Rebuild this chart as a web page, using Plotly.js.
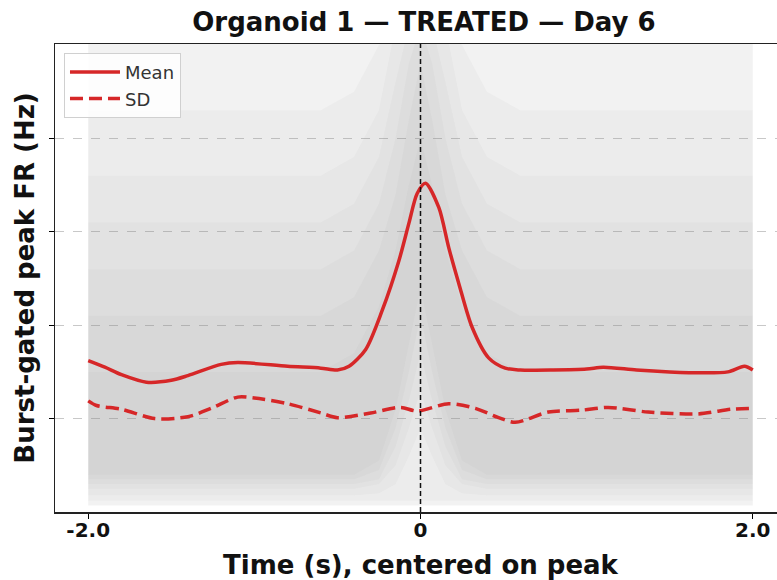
<!DOCTYPE html>
<html>
<head>
<meta charset="utf-8">
<script src="https://cdn.plot.ly/plotly-3.0.1.min.js"></script>
<style>
html,body{margin:0;padding:0;overflow:hidden;background:#fff;}
#chart{width:800px;height:580px;}
</style>
</head>
<body>
<div id="chart"></div>
<script>
// ---- data ----
const meanT = [-2.0,-1.9,-1.8,-1.65,-1.5,-1.4,-1.2,-1.1,-0.8,-0.6,-0.5,-0.43,-0.33,-0.23,-0.13,-0.07,-0.02,0.03,0.11,0.17,0.23,0.31,0.41,0.51,0.6,0.8,1.0,1.1,1.3,1.5,1.7,1.85,1.95,2.0];
const meanV = [1.62,1.55,1.47,1.39,1.41,1.46,1.58,1.60,1.56,1.54,1.52,1.56,1.74,2.16,2.69,3.09,3.41,3.52,3.26,2.83,2.45,1.98,1.65,1.54,1.52,1.52,1.53,1.55,1.52,1.50,1.49,1.50,1.56,1.52];

const sdT = [-2.0,-1.95,-1.8,-1.6,-1.4,-1.26,-1.1,-1.0,-0.8,-0.6,-0.5,-0.3,-0.12,-0.02,0.17,0.33,0.47,0.57,0.77,0.97,1.13,1.37,1.67,1.87,2.0];
const sdV = [1.19,1.14,1.10,1.00,1.02,1.11,1.23,1.22,1.16,1.06,1.01,1.06,1.12,1.08,1.16,1.11,1.01,0.96,1.07,1.09,1.12,1.07,1.05,1.10,1.11];

// envelope of the individual grey burst traces, as density layers
const bandT = [-2,-1.5,-1,-0.6,-0.4,-0.25,-0.15,-0.07,0,0.07,0.15,0.25,0.4,0.6,1,1.5,2];
const bandHi = [
  [5.2,5.2,5.2,5.2,5.2,5.2,5.2,5.2,5.2,5.2,5.2,5.2,5.2,5.2,5.2,5.2,5.2],
  [4.3,4.3,4.3,4.3,4.5,5.0,5.2,5.2,5.2,5.2,5.2,5.0,4.5,4.3,4.3,4.3,4.3],
  [3.6,3.6,3.6,3.6,3.8,4.3,5.2,5.2,5.2,5.2,5.2,4.3,3.8,3.6,3.6,3.6,3.6],
  [3.1,3.1,3.1,3.1,3.3,3.8,4.6,5.2,5.2,5.2,4.6,3.8,3.3,3.1,3.1,3.1,3.1],
  [2.6,2.6,2.6,2.6,2.8,3.3,4.0,4.8,5.2,4.8,4.0,3.3,2.8,2.6,2.6,2.6,2.6],
  [2.1,2.1,2.1,2.1,2.3,2.8,3.4,4.2,4.8,4.2,3.4,2.8,2.3,2.1,2.1,2.1,2.1],
  [1.5,1.5,1.5,1.5,1.7,2.2,2.8,3.5,4.0,3.5,2.8,2.2,1.7,1.5,1.5,1.5,1.5]
];
const bandLo = [
  [0.07,0.07,0.07,0.07,0.07,0.07,0.07,0.07,0.07,0.07,0.07,0.07,0.07,0.07,0.07,0.07,0.07],
  [0.12,0.12,0.12,0.12,0.12,0.12,0.12,0.12,0.12,0.12,0.12,0.12,0.12,0.12,0.12,0.12,0.12],
  [0.18,0.18,0.18,0.18,0.18,0.2,0.3,0.6,0.9,0.6,0.3,0.2,0.18,0.18,0.18,0.18,0.18],
  [0.25,0.25,0.25,0.25,0.25,0.3,0.5,0.9,1.3,0.9,0.5,0.3,0.25,0.25,0.25,0.25,0.25],
  [0.3,0.3,0.3,0.3,0.3,0.35,0.7,1.2,1.7,1.2,0.7,0.35,0.3,0.3,0.3,0.3,0.3],
  [0.35,0.35,0.35,0.35,0.35,0.45,0.9,1.5,2.1,1.5,0.9,0.45,0.35,0.35,0.35,0.35,0.35],
  [0.4,0.4,0.4,0.4,0.4,0.55,1.1,1.8,2.4,1.8,1.1,0.55,0.4,0.4,0.4,0.4,0.4]
];
const bandAlpha = [0.12, 0.055, 0.055, 0.055, 0.055, 0.055, 0.055];

const xTicks = [-2, 0, 2];
const xTickText = ['-2.0', '0', '2.0'];
const yTicks = [1, 2, 3, 4];

// ---- build traces ----
const traces = [];
bandHi.forEach(function(hi, i){
  const lo = bandLo[i];
  traces.push({
    x: bandT.concat(bandT.slice().reverse()),
    y: hi.concat(lo.slice().reverse()),
    type: 'scatter', mode: 'lines', fill: 'toself',
    fillcolor: 'rgba(150,150,150,' + bandAlpha[i] + ')',
    line: {width: 0}, hoverinfo: 'skip', showlegend: false
  });
});
const red = '#d62728';
traces.push(
  {x: meanT, y: meanV, type: 'scatter', mode: 'lines', name: 'Mean',
   line: {color: red, width: 3.5, shape: 'spline', smoothing: 0.8}},
  {x: sdT, y: sdV, type: 'scatter', mode: 'lines', name: 'SD',
   line: {color: red, width: 3.5, dash: '13px,6px', shape: 'spline', smoothing: 0.8}}
);

const font = 'DejaVu Sans, sans-serif';
const layout = {
  width: 800, height: 580,
  margin: {l: 55, r: 12, t: 44, b: 68},
  paper_bgcolor: '#fff', plot_bgcolor: '#fff',
  font: {family: font, color: '#000'},
  title: {text: 'Organoid 1 — TREATED — Day 6', x: 0.53, xanchor: 'center', y: 0.962, yanchor: 'middle',
          font: {family: font, size: 26, weight: 'bold', color: '#111'}},
  xaxis: {
    range: [-2.2, 2.2], tickvals: xTicks, ticktext: xTickText,
    ticks: 'outside', ticklen: 5, tickwidth: 1.2, tickcolor: '#000',
    showline: true, linecolor: '#222', linewidth: 1.5, mirror: true,
    showgrid: false, zeroline: false, ticklabelstandoff: -6,
    tickfont: {family: font, size: 20, weight: 'bold', color: '#111'},
    title: {text: 'Time (s), centered on peak',
            font: {family: font, size: 26, weight: 'bold', color: '#111'}}
  },
  yaxis: {
    range: [0, 5.01], tickvals: yTicks, showticklabels: false,
    ticks: 'outside', ticklen: 5, tickwidth: 1.2, tickcolor: '#000',
    showline: true, linecolor: '#222', linewidth: 1.5, mirror: true,
    showgrid: true, gridcolor: '#c8c8c8', griddash: 'dash', gridwidth: 1,
    zeroline: false, automargin: true,
    title: {text: 'Burst-gated peak FR (Hz)', standoff: 6,
            font: {family: font, size: 26, weight: 'bold', color: '#111'}}
  },
  legend: {x: 0.0123, y: 0.981, xanchor: 'left', yanchor: 'top',
           bgcolor: 'rgba(255,255,255,0.85)', bordercolor: '#d0d0d0', borderwidth: 1,
           font: {family: font, size: 18, color: '#333'}, itemwidth: 50, tracegroupgap: 0},
  shapes: [{type: 'line', xref: 'x', yref: 'paper', x0: 0, x1: 0, y0: 0, y1: 1,
            line: {color: '#111', width: 1.5, dash: '5px,3px'}, layer: 'above'}],
  showlegend: true
};

Plotly.newPlot('chart', traces, layout, {displayModeBar: false, staticPlot: true});
</script>
</body>
</html>
